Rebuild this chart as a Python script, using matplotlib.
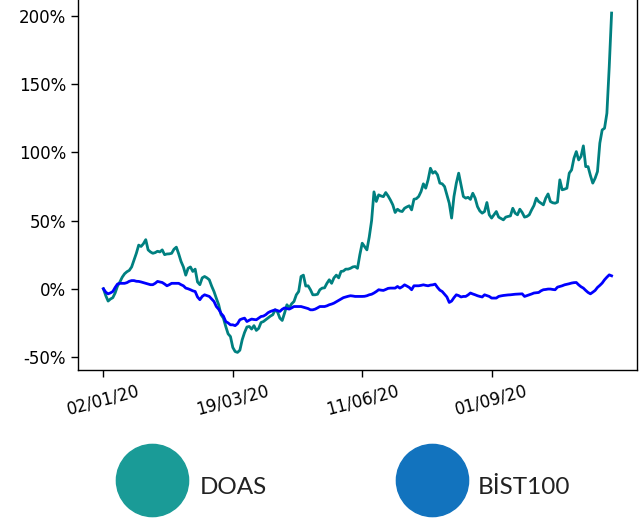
import matplotlib
matplotlib.use("Agg")
import matplotlib.pyplot as plt
from matplotlib.ticker import FuncFormatter

# ---- data (cumulative return, %) ----
doas = [0, -5, -9, -7.5, -6.5, -3, 2, 5, 8.5, 11, 12.5, 13.5, 16, 21, 26, 32, 31, 33, 36, 28.5,
        27, 26, 26.5, 27.5, 27, 28.5, 25, 25.5, 25.6, 26, 29, 30.5, 25.6, 20, 16, 10, 15, 16, 12.7, 14.4,
        5, 3, 8, 9, 8, 6.6, 2, -2, -7, -11.7, -19, -21.5, -27.6, -33, -35, -43, -46, -46.6, -45, -37.3,
        -32, -28, -27.6, -29.5, -27, -30.5, -29, -24.7, -24, -22.7, -21.5, -20, -19, -15.4, -17, -21.5, -23.2, -17.8, -11.7, -14,
        -11, -9.3, -4.4, -2, 9, 10, 2, 2.2, -0.7, -4.4, -4.4, -4, -0.7, 0.5, 0.7, 4, 6.6, 4, 8, 10,
        8, 12.7, 13, 14.4, 14.4, 15, 16, 16.3, 15, 25, 33.4, 31, 28.5, 38, 50, 71, 64, 68.8, 68, 67.5,
        70.5, 68, 65, 61.5, 55.9, 58.3, 57, 56.6, 59, 60, 60.8, 57.8, 65.6, 66, 67.6, 71.2, 76.9, 73.7, 79.8, 88.3,
        84.7, 85.9, 83.5, 77.4, 76.9, 74.9, 68.8, 62.7, 51.8, 67.6, 77.4, 84.7, 76, 67.6, 66.4, 67, 65.5, 70, 66.4, 60.2,
        57, 55.4, 56.6, 63.2, 54.2, 51.8, 54.2, 56.6, 52.5, 51.5, 50.5, 52.5, 53, 53.4, 59, 55.4, 54.2, 58.3, 55.9, 52.5,
        53, 54.2, 57.8, 61, 66.4, 63.9, 62.7, 61.5, 66.4, 69.5, 63.9, 63, 62.7, 63.5, 79.8, 72.5, 73, 73.7, 84.7, 87.1,
        95.6, 100.5, 94.4, 96.9, 104.7, 89.5, 89.5, 83, 77.4, 81, 85.9, 106.7, 116.4, 117.6, 128.6, 162.7, 202]

bist100 = [0, -2.5, -3.7, -3, -2, 1, 3.5, 4, 4, 4, 4.5, 5.5, 6, 6, 5.5, 5.4, 5, 4.5, 4, 3.5,
           3, 3, 4, 5.4, 5, 4.6, 3.5, 2.2, 3, 4, 4, 4, 4, 3, 2.2, 0.5, 0, -0.7, -1.5, -2,
           -6, -8, -5.6, -4.4, -5, -5.6, -7.5, -9.3, -13, -15, -18, -20, -24, -25, -26.4, -26.4, -27, -25.6, -22.7, -22,
           -21.5, -24, -23, -22.2, -22.5, -22.7, -21.5, -20.3, -20, -19, -17.5, -16.6, -16, -15.4, -16, -16.6, -15, -14, -14.5, -14.9,
           -14, -13, -13, -13, -13, -13.5, -14, -14.5, -15.4, -15.4, -14.9, -14, -13, -13, -13, -12.5, -11.7, -11.2, -10.5, -9.5,
           -8.5, -7.5, -6.5, -6, -5.5, -5.1, -5.3, -5.6, -5.6, -5.6, -5.6, -5.5, -5.1, -4.4, -4, -3.1, -2, -0.7, -1, -1.2,
           -0.5, 0.3, 0.5, 0.5, 0.5, 1.7, 0.5, 1.5, 2.9, 2, 1, -0.7, 2.2, 2.2, 2.2, 2.5, 2.9, 2.5, 2.2, 2.7,
           2.9, 3.4, 1, -1, -2, -4, -6, -10, -9, -6.5, -4.4, -5, -6, -5.6, -5.6, -4.5, -3.1, -3.8, -4.4, -5.1,
           -5.6, -6, -4.4, -5, -5.6, -6.8, -6.8, -6.8, -5.6, -5.2, -4.9, -4.7, -4.5, -4.4, -4.2, -4, -3.9, -3.8, -3.7, -5.6,
           -5, -4.4, -3.8, -3.1, -2.9, -2.7, -1.5, -0.7, -0.5, -0.2, -0.2, -0.5, -0.7, 1.2, 1.7, 2.2, 2.9, 3.3, 3.7, 4.2,
           4.5, 4.6, 2.9, 1.5, 0.5, -1.2, -2.7, -3.7, -2.5, -1.2, 1, 2.5, 4.2, 6.6, 8.5, 10.2, 9.5]

tick_idx = [0, 55, 110, 165]
tick_labels = ["02/01/20", "19/03/20", "11/06/20", "01/09/20"]
yticks = [-50, 0, 50, 100, 150, 200]
series_names = ["DOAS", "BİST100"]
legend_colors = ["#1a9b97", "#1273be"]

W, H = 641, 526
fig = plt.figure(figsize=(W / 100, H / 100), dpi=100)
ax = fig.add_axes([78 / W, (H - 370) / H, 559 / W, 374 / H])

x = list(range(len(doas)))
ax.plot(x, doas, color="teal", lw=2)
ax.plot(x, bist100, color="blue", lw=2)

ax.set_xlim(-10.8, 226.8)
ax.set_ylim(-59.5, 214.5)
ax.set_yticks(yticks)
ax.yaxis.set_major_formatter(FuncFormatter(lambda v, p: f"{int(v)}%"))
ax.set_xticks(tick_idx)
ax.set_xticklabels(tick_labels, rotation=15)
ax.tick_params(labelsize=12, length=5, width=1)
ax.spines["top"].set_visible(False)
for s in ["left", "bottom", "right"]:
    ax.spines[s].set_linewidth(1.0)

# legend with big circles
lax = fig.add_axes([0, 0, 1, 110 / H])
lax.set_xlim(0, W)
lax.set_ylim(H, H - 110)
lax.axis("off")
circ_x = [152, 432]
text_x = [200, 478]
for cx, tx, name, col in zip(circ_x, text_x, series_names, legend_colors):
    lax.plot([cx], [480], "o", ms=52, color=col, mec=col)
    lax.text(tx, 487, name, fontsize=17.5, family="Lato", color="#222222",
             va="center", ha="left")

fig.savefig("out.png", dpi=100)
